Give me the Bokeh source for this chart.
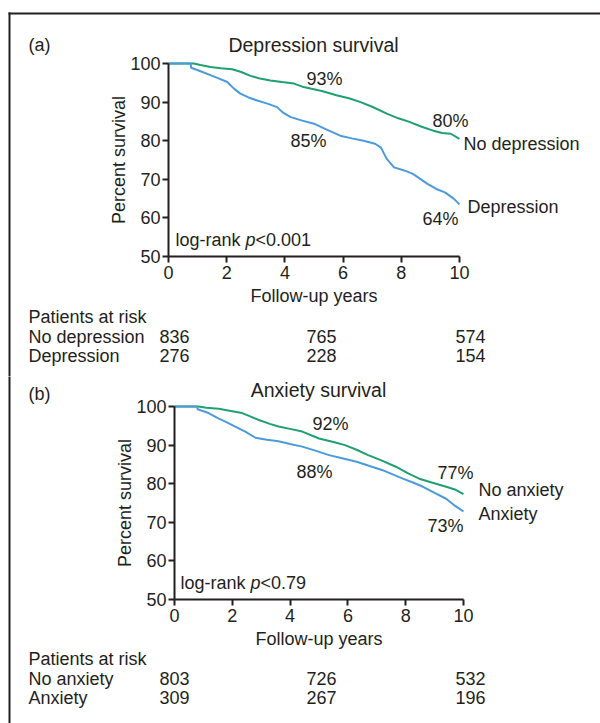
from bokeh.plotting import figure
from bokeh.models import Range1d, FixedTicker, Label, LinearAxis, BoxAnnotation
from bokeh.layouts import column
from bokeh.embed import file_html
from bokeh.resources import INLINE

# ---------------- data ----------------
year_ticks = [0, 2, 4, 6, 8, 10]
pct_ticks = [50, 60, 70, 80, 90, 100]

# Panel (a) Depression survival
a_nodep_t = [0, 0.87, 1.1, 1.44, 1.8, 2.19, 2.5, 2.82, 3.1, 3.5, 3.9, 4.31, 4.6, 4.88, 5.3,
             5.8, 6.2, 6.6, 7.0, 7.5, 7.9, 8.3, 8.7, 9.1, 9.4, 9.7, 10.0]
a_nodep_s = [100, 100, 99.6, 99.1, 98.8, 98.5, 97.8, 96.8, 96.2, 95.6, 95.2, 94.8, 94.0, 93.5, 92.8,
             91.7, 91.0, 90.0, 88.8, 87.0, 85.8, 84.8, 83.6, 82.6, 82.0, 81.8, 80.5]
a_dep_t = [0, 0.76, 0.78, 1.1, 1.44, 1.7, 2.02, 2.25, 2.47, 2.75, 3.05, 3.4, 3.73, 3.95, 4.2, 4.6,
           5.0, 5.4, 5.9, 6.3, 6.7, 7.1, 7.3, 7.5, 7.75, 8.1, 8.4, 8.9, 9.2, 9.5, 9.8, 10.0]
a_dep_s = [100, 100, 98.9, 98.0, 97.0, 96.2, 95.2, 93.5, 92.2, 91.2, 90.4, 89.6, 88.7, 87.2, 86.1, 85.2,
           84.4, 83.0, 81.3, 80.6, 80.0, 79.2, 78.2, 75.3, 73.1, 72.3, 71.4, 68.8, 67.5, 66.6, 65.0, 63.5]

# Panel (b) Anxiety survival
b_noanx_t = [0, 0.83, 1.1, 1.53, 1.9, 2.34, 2.6, 2.92, 3.3, 3.6, 4.0, 4.42, 5.0, 5.5, 5.9, 6.3,
             6.7, 7.2, 7.66, 8.1, 8.47, 8.9, 9.4, 9.7, 10.0]
b_noanx_s = [100, 100, 99.7, 99.4, 98.9, 98.3, 97.5, 96.5, 95.5, 94.8, 94.2, 93.5, 91.7, 90.8, 90.0, 88.8,
             87.4, 85.9, 84.4, 82.6, 81.3, 80.3, 79.2, 78.5, 77.3]
b_anx_t = [0, 0.78, 0.8, 1.18, 1.5, 1.76, 2.1, 2.45, 2.8, 3.2, 3.6, 4.0, 4.42, 4.9, 5.35, 5.8, 6.3,
           6.7, 7.2, 7.55, 7.9, 8.25, 8.6, 9.0, 9.4, 9.7, 10.0]
b_anx_s = [100, 100, 99.3, 98.3, 97.0, 96.1, 94.8, 93.5, 91.9, 91.4, 91.0, 90.3, 89.6, 88.5, 87.4, 86.6, 85.7,
           84.7, 83.5, 82.4, 81.3, 80.3, 79.2, 77.6, 76.1, 74.3, 72.8]

a_groups = ["No depression", "Depression"]
a_risk_nodep = [836, 765, 574]
a_risk_dep = [276, 228, 154]
b_groups = ["No anxiety", "Anxiety"]
b_risk_noanx = [803, 726, 532]
b_risk_anx = [309, 267, 196]

a_pct = ["93%", "85%", "80%", "64%"]
b_pct = ["92%", "88%", "77%", "73%"]

# ---------------- style ----------------
FONT = "Liberation Sans"
INK = "#231f20"
GREEN = "#1fa06e"
BLUE = "#4b9bdc"
FS = "18px"
CW = 600   # canvas width


def make_panel(canvas_top, canvas_bot, x0px, x10px, y100px, y50px, box_top):
    ppx = (x10px - x0px) / 10.0
    ppy = (y50px - y100px) / 50.0

    def dx(px):
        return (px - x0px) / ppx

    def dy(py):
        return 50.0 + (y50px - py) / ppy

    p = figure(width=CW, height=canvas_bot - canvas_top,
               x_range=Range1d(dx(0), dx(CW)),
               y_range=Range1d(dy(canvas_bot), dy(canvas_top)),
               x_axis_location=None, y_axis_location=None,
               min_border=0, output_backend="svg", toolbar_location=None, tools="")
    p.outline_line_color = None
    p.grid.visible = False
    p.background_fill_color = "white"
    p.border_fill_color = "white"

    # surrounding box: top and left edges as thin filled bars
    if box_top is not None:
        p.add_layout(BoxAnnotation(left=dx(8), right=dx(CW + 10), top=dy(box_top - 1), bottom=dy(box_top + 1),
                                   fill_color=INK, fill_alpha=1, line_color=None, level="underlay"))
        left_top = box_top - 1
    else:
        left_top = canvas_top - 10
    p.add_layout(BoxAnnotation(left=dx(8), right=dx(10), top=dy(left_top), bottom=dy(canvas_bot + 10),
                               fill_color=INK, fill_alpha=1, line_color=None, level="underlay"))

    xax = LinearAxis(fixed_location=50, bounds=(0, 10), ticker=FixedTicker(ticks=year_ticks),
                     axis_label="Follow-up years")
    yax = LinearAxis(fixed_location=0, bounds=(50, 100), ticker=FixedTicker(ticks=pct_ticks),
                     axis_label="Percent survival")
    for ax in (xax, yax):
        ax.axis_line_width = 2
        ax.axis_line_color = INK
        ax.major_tick_line_width = 2
        ax.major_tick_line_color = INK
        ax.major_tick_in = 0
        ax.major_tick_out = 6
        ax.minor_tick_line_color = None
        ax.major_label_text_font = FONT
        ax.major_label_text_font_size = FS
        ax.major_label_text_color = INK
        ax.axis_label_text_font = FONT
        ax.axis_label_text_font_size = FS
        ax.axis_label_text_font_style = "normal"
        ax.axis_label_text_color = INK
    xax.major_label_standoff = 3
    yax.major_label_standoff = 2
    xax.axis_label_standoff = 4
    yax.axis_label_standoff = -2
    p.add_layout(xax, "below")
    p.add_layout(yax, "left")

    def lab(px, py, text, align="left", size=FS, style="normal"):
        p.add_layout(Label(x=dx(px), y=dy(py), text=text, text_align=align, text_baseline="middle",
                           text_font=FONT, text_font_size=size, text_font_style=style,
                           text_color=INK))
    return p, lab


# ---------------- panel (a) ----------------
p1, lab1 = make_panel(0, 376, 168, 459, 63, 256, box_top=13)
p1.line(a_nodep_t, a_nodep_s, line_color=GREEN, line_width=2)
p1.line(a_dep_t, a_dep_s, line_color=BLUE, line_width=2)
lab1(28, 44, "(a)")
lab1(313, 44, "Depression survival", align="center", size="19.5px")
lab1(324, 78, a_pct[0], align="center")
lab1(308, 140, a_pct[1], align="center")
lab1(450, 120, a_pct[2], align="center")
lab1(440, 218, a_pct[3], align="center")
lab1(463, 143, a_groups[0])
lab1(467, 206, a_groups[1])
lab1(175, 239, "log-rank ")
lab1(245, 239, "p", style="italic")
lab1(255, 239, "<0.001")
lab1(28, 316, "Patients at risk")
lab1(28, 336, a_groups[0])
lab1(28, 355, a_groups[1])
for px, v1, v2 in zip([159, 306, 455], a_risk_nodep, a_risk_dep):
    lab1(px, 336, str(v1))
    lab1(px, 355, str(v2))

# ---------------- panel (b) ----------------
p2, lab2 = make_panel(376, 723, 174, 463, 406, 599, box_top=None)
p2.line(b_noanx_t, b_noanx_s, line_color=GREEN, line_width=2)
p2.line(b_anx_t, b_anx_s, line_color=BLUE, line_width=2)
lab2(28, 393, "(b)")
lab2(318, 389, "Anxiety survival", align="center", size="19.5px")
lab2(330, 423, b_pct[0], align="center")
lab2(314, 471, b_pct[1], align="center")
lab2(455, 472, b_pct[2], align="center")
lab2(445, 525, b_pct[3], align="center")
lab2(478, 489, b_groups[0])
lab2(478, 513, b_groups[1])
lab2(180, 582, "log-rank ")
lab2(250, 582, "p", style="italic")
lab2(260, 582, "<0.79")
lab2(28, 658, "Patients at risk")
lab2(28, 678, b_groups[0])
lab2(28, 697, b_groups[1])
for px, v1, v2 in zip([159, 306, 455], b_risk_noanx, b_risk_anx):
    lab2(px, 678, str(v1))
    lab2(px, 697, str(v2))

layout = column(p1, p2)

open("out.html", "w").write(file_html(layout, INLINE))
